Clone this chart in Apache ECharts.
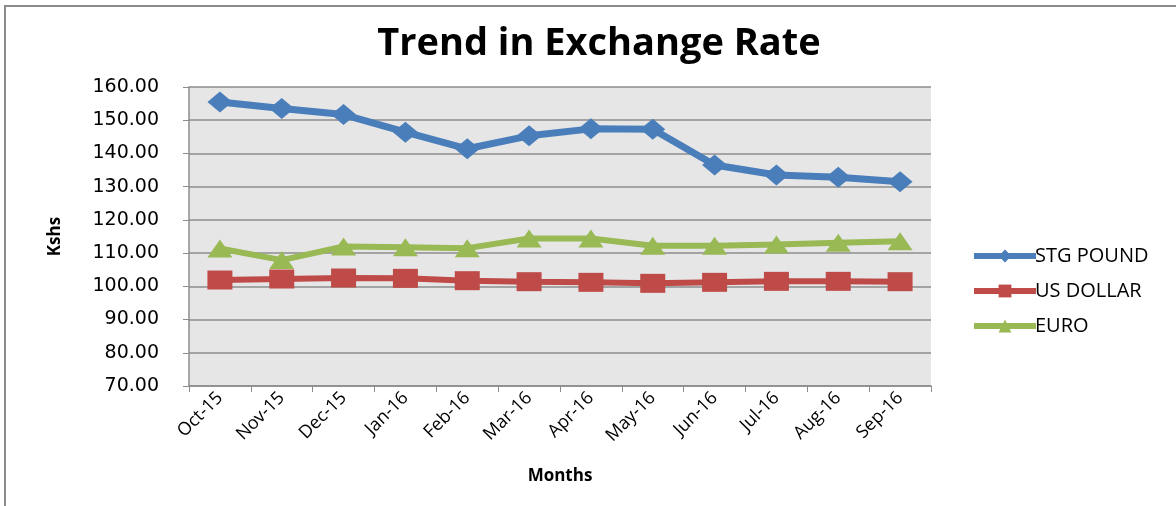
<!DOCTYPE html>
<html lang="en">
  <head>
    <meta charset="UTF-8" />
    <title>Trend in Exchange Rate</title>
    <script src="https://cdn.jsdelivr.net/npm/echarts@6/dist/echarts.min.js"></script>
  </head>
  <style>
    html,
    body {
      margin: 0;
      padding: 0;
      width: 100%;
      height: 100%;
      background: #fff;
    }
    #frame {
      position: absolute;
      left: 4px;
      top: 5px;
      width: 1180px;
      height: 510px;
      border-left: 2px solid #8c8c8c;
      border-top: 2px solid #8c8c8c;
    }
    #echart {
      position: absolute;
      left: 0;
      top: 0;
      width: 1176px;
      height: 506px;
    }
  </style>
  <body>
    <div id="frame"></div>
    <div id="echart"></div>
  </body>
  <script>
    const months = ["Oct-15", "Nov-15", "Dec-15", "Jan-16", "Feb-16", "Mar-16", "Apr-16", "May-16", "Jun-16", "Jul-16", "Aug-16", "Sep-16"];
    const stgPound = [155.5, 153.5, 151.7, 146.4, 141.4, 145.3, 147.4, 147.3, 136.5, 133.5, 132.8, 131.5];
    const usDollar = [101.9, 102.2, 102.5, 102.4, 101.7, 101.4, 101.2, 100.9, 101.2, 101.5, 101.5, 101.4];
    const euro = [111.4, 107.9, 112.0, 111.8, 111.5, 114.4, 114.4, 112.2, 112.2, 112.6, 113.1, 113.6];

    const chart = echarts.init(document.getElementById("echart"));
    const font = "'Open Sans', 'DejaVu Sans', sans-serif";

    // one line series, thick stroke + big marker like the excel chart
    const mkSeries = (name, data, color, symbol, size, width) => ({
      name: name,
      type: "line",
      data: data,
      symbol: symbol,
      symbolSize: size,
      lineStyle: { color: color, width: width },
      itemStyle: { color: color },
    });

    const option = {
      animation: false,
      title: {
        text: "Trend in Exchange Rate",
        left: 594,
        textAlign: "center",
        top: 20,
        textStyle: { fontFamily: font, fontWeight: "bold", fontSize: 38, color: "#000" },
      },
      legend: {
        orient: "vertical",
        left: 966,
        top: 241,
        itemGap: 15,
        itemWidth: 62,
        itemHeight: 16,
        lineStyle: { width: 6 },
        textStyle: { fontFamily: font, fontSize: 20, color: "#000", padding: [0, 0, 0, -6] },
        data: ["STG POUND", "US DOLLAR", "EURO"],
      },
      grid: { left: 189, right: 245, top: 87, bottom: 120, containLabel: false },
      xAxis: {
        type: "category",
        data: months,
        boundaryGap: true,
        name: "Months",
        nameLocation: "middle",
        nameGap: 82,
        nameTextStyle: { fontFamily: font, fontWeight: "bold", fontSize: 17, color: "#000" },
        axisLine: { lineStyle: { color: "#8c8c8c", width: 1.5 } },
        axisTick: { show: true, length: 6, alignWithLabel: false, lineStyle: { color: "#8c8c8c" } },
        axisLabel: { rotate: 45, fontFamily: font, fontSize: 18, color: "#000", margin: 9 },
      },
      yAxis: {
        type: "value",
        min: 70,
        max: 160,
        interval: 10,
        name: "Kshs",
        nameLocation: "middle",
        nameGap: 125,
        nameRotate: 90,
        nameTextStyle: { fontFamily: font, fontWeight: "bold", fontSize: 17, color: "#000" },
        axisLine: { show: true, lineStyle: { color: "#8c8c8c", width: 1.5 } },
        axisTick: { show: true, length: 6, lineStyle: { color: "#8c8c8c" } },
        axisLabel: {
          fontFamily: "'DejaVu Sans', sans-serif",
          fontSize: 19,
          color: "#000",
          margin: 30,
          formatter: (v) => v.toFixed(2),
        },
        splitLine: { lineStyle: { color: "#8c8c8c", width: 1.5 } },
      },
      series: [
        mkSeries("STG POUND", stgPound, "#4a7ebb", "diamond", [25, 21], 7),
        mkSeries("US DOLLAR", usDollar, "#be4b48", "rect", [25, 19], 6),
        mkSeries("EURO", euro, "#98b954", "triangle", [25, 18], 6),
      ],
      graphic: [
        {
          type: "rect",
          z: -10,
          shape: { x: 189, y: 87, width: 742, height: 299 },
          style: { fill: "#e6e6e6" },
        },
      ],
    };

    chart.setOption(option);
  </script>
</html>
